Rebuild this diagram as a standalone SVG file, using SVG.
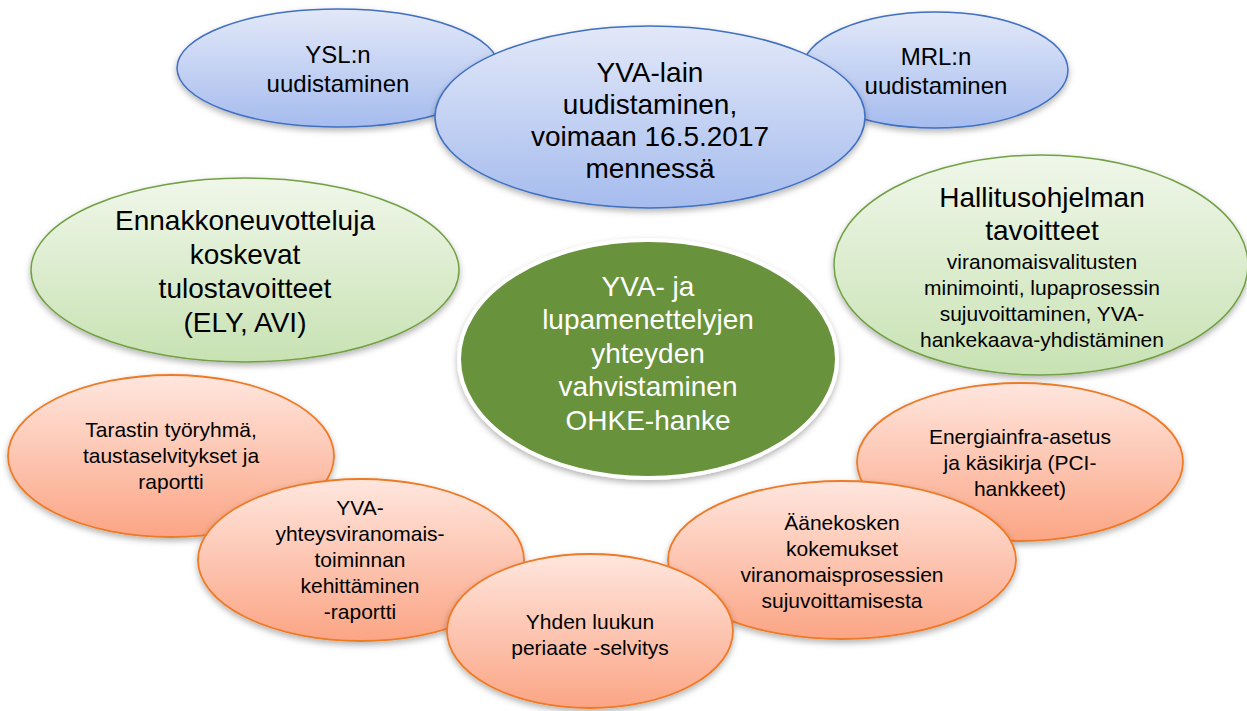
<svg xmlns="http://www.w3.org/2000/svg" width="1247" height="711" viewBox="0 0 1247 711">
<defs>
  <linearGradient id="gBlue" x1="0" y1="0" x2="0" y2="1">
    <stop offset="0" stop-color="#e2e8f8"/>
    <stop offset="1" stop-color="#a6bcee"/>
  </linearGradient>
  <linearGradient id="gGreen" x1="0" y1="0" x2="0" y2="1">
    <stop offset="0" stop-color="#f0f7ea"/>
    <stop offset="1" stop-color="#c8e2b3"/>
  </linearGradient>
  <linearGradient id="gOrange" x1="0" y1="0" x2="0" y2="1">
    <stop offset="0" stop-color="#ffe6de"/>
    <stop offset="1" stop-color="#fba585"/>
  </linearGradient>
  <filter id="shadow" x="-10%" y="-10%" width="120%" height="130%">
    <feDropShadow dx="0" dy="3" stdDeviation="3" flood-color="#000" flood-opacity="0.3"/>
  </filter>
  <style>
    .blue{fill:url(#gBlue);stroke:#3f6fc0;stroke-width:1.5;filter:url(#shadow)}
    .lgreen{fill:url(#gGreen);stroke:#72a044;stroke-width:1.5;filter:url(#shadow)}
    .orange{fill:url(#gOrange);stroke:#ef7a26;stroke-width:1.8;filter:url(#shadow)}
    .core{fill:#68923b;stroke:#ffffff;stroke-width:4;filter:url(#shadow)}
    text{font-family:"Liberation Sans",Arial,Helvetica,sans-serif;text-anchor:middle;fill:#000}
    .t24{font-size:24px}
    .t28{font-size:28px}
    .t21{font-size:21px}
    .white{fill:#ffffff}
  </style>
</defs>
<rect x="0" y="0" width="1247" height="711" fill="#ffffff"/>
<g id="connectors"></g>

<g id="ysl">
  <ellipse class="blue" cx="338" cy="68" rx="161" ry="59"/>
  <text class="t24" x="338" y="63">YSL:n</text>
  <text class="t24" x="338" y="92">uudistaminen</text>
</g>
<g id="mrl">
  <ellipse class="blue" cx="935" cy="70" rx="133" ry="58"/>
  <text class="t24" x="936" y="65">MRL:n</text>
  <text class="t24" x="936" y="94">uudistaminen</text>
</g>
<g id="yva-lain">
  <ellipse class="blue" cx="650" cy="117" rx="215" ry="91"/>
  <text class="t28" x="650" y="82">YVA-lain</text>
  <text class="t28" x="650" y="114">uudistaminen,</text>
  <text class="t28" x="650" y="146">voimaan 16.5.2017</text>
  <text class="t28" x="650" y="178">mennessä</text>
</g>
<g id="ennakko">
  <ellipse class="lgreen" cx="245" cy="270" rx="214" ry="92"/>
  <text class="t28" x="245" y="230">Ennakkoneuvotteluja</text>
  <text class="t28" x="245" y="264">koskevat</text>
  <text class="t28" x="245" y="298">tulostavoitteet</text>
  <text class="t28" x="245" y="332">(ELY, AVI)</text>
</g>
<g id="hallitus">
  <ellipse class="lgreen" cx="1041" cy="265" rx="207" ry="110"/>
  <text class="t28" x="1042" y="207">Hallitusohjelman</text>
  <text class="t28" x="1042" y="240">tavoitteet</text>
  <text class="t21" x="1042" y="269">viranomaisvalitusten</text>
  <text class="t21" x="1042" y="295">minimointi, lupaprosessin</text>
  <text class="t21" x="1042" y="321">sujuvoittaminen, YVA-</text>
  <text class="t21" x="1042" y="347">hankekaava-yhdistäminen</text>
</g>
<g id="center">
  <ellipse class="core" cx="648" cy="359" rx="189" ry="119"/>
  <text class="t28 white" x="648" y="296">YVA- ja</text>
  <text class="t28 white" x="648" y="329">lupamenettelyjen</text>
  <text class="t28 white" x="648" y="363">yhteyden</text>
  <text class="t28 white" x="648" y="396">vahvistaminen</text>
  <text class="t28 white" x="648" y="430">OHKE-hanke</text>
</g>
<g id="tarastin">
  <ellipse class="orange" cx="171" cy="456" rx="163" ry="81"/>
  <text class="t21" x="171" y="437">Tarastin työryhmä,</text>
  <text class="t21" x="171" y="463">taustaselvitykset ja</text>
  <text class="t21" x="171" y="489">raportti</text>
</g>
<g id="yva-yhteys">
  <ellipse class="orange" cx="361" cy="560" rx="163" ry="81"/>
  <text class="t21" x="360" y="515">YVA-</text>
  <text class="t21" x="360" y="541">yhteysviranomais-</text>
  <text class="t21" x="360" y="567">toiminnan</text>
  <text class="t21" x="360" y="593">kehittäminen</text>
  <text class="t21" x="360" y="619">-raportti</text>
</g>
<g id="energia">
  <ellipse class="orange" cx="1020" cy="462" rx="163" ry="79"/>
  <text class="t21" x="1020" y="444">Energiainfra-asetus</text>
  <text class="t21" x="1020" y="470">ja käsikirja (PCI-</text>
  <text class="t21" x="1020" y="496">hankkeet)</text>
</g>
<g id="aanekoski">
  <ellipse class="orange" cx="842" cy="560" rx="174" ry="79"/>
  <text class="t21" x="842" y="530">Äänekosken</text>
  <text class="t21" x="842" y="556">kokemukset</text>
  <text class="t21" x="842" y="582">viranomaisprosessien</text>
  <text class="t21" x="842" y="608">sujuvoittamisesta</text>
</g>
<g id="yhden">
  <ellipse class="orange" cx="590" cy="631" rx="143" ry="77"/>
  <text class="t21" x="590" y="629">Yhden luukun</text>
  <text class="t21" x="590" y="655">periaate -selvitys</text>
</g>
</svg>
